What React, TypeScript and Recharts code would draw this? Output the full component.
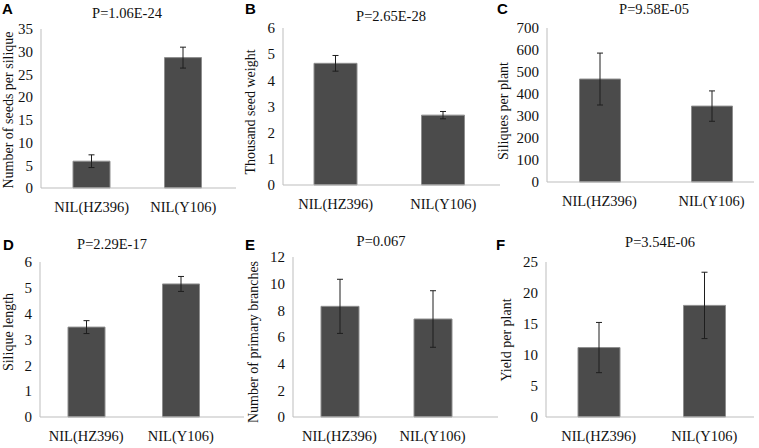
import React from "react";
import { BarChart, Bar, XAxis, YAxis, ErrorBar, Label } from "recharts";

const categories = ["NIL(HZ396)", "NIL(Y106)"];

const seedsPerSilique = [5.9, 28.7];
const seedsPerSiliqueErr = [1.4, 2.3];
const thousandSeedWeight = [4.65, 2.67];
const thousandSeedWeightErr = [0.3, 0.14];
const siliquesPerPlant = [468, 345];
const siliquesPerPlantErr = [118, 69];
const siliqueLength = [3.48, 5.15];
const siliqueLengthErr = [0.25, 0.29];
const primaryBranches = [8.3, 7.35];
const primaryBranchesErr = [2.03, 2.12];
const yieldPerPlant = [11.2, 18.0];
const yieldPerPlantErr = [4.05, 5.35];

const ticksA = [0, 5, 10, 15, 20, 25, 30, 35];
const ticksB = [0, 1, 2, 3, 4, 5, 6];
const ticksC = [0, 100, 200, 300, 400, 500, 600, 700];
const ticksD = [0, 1, 2, 3, 4, 5, 6];
const ticksE = [0, 2, 4, 6, 8, 10, 12];
const ticksF = [0, 5, 10, 15, 20, 25];

const SERIF = "'Liberation Serif', 'Times New Roman', serif";
const AXIS = "#bdbdbd";
const BAR = "#4b4b4b";

// left/top/width/height place each chart; yw = y axis width, mt = top margin, pl/pr = x padding
const panels = [
  { letter: "A", title: "P=1.06E-24", yLabel: "Number of seeds per silique", values: seedsPerSilique, errs: seedsPerSiliqueErr, ticks: ticksA,
    left: 0, top: 0, width: 236, height: 228, yw: 41, mt: 29, pl: 5, pr: 7, barSize: 37, lx: 8, ly: 110, tx: 127, ty: 17.5, kx: 2, ky: 14 },
  { letter: "B", title: "P=2.65E-28", yLabel: "Thousand seed weight", values: thousandSeedWeight, errs: thousandSeedWeightErr, ticks: ticksB,
    left: 238, top: 0, width: 262, height: 225, yw: 45, mt: 28, pl: -1, pr: 3, barSize: 43, lx: 12, ly: 112, tx: 391, ty: 21, kx: 245, ky: 14 },
  { letter: "C", title: "P=9.58E-05", yLabel: "Siliques per plant", values: siliquesPerPlant, errs: siliquesPerPlantErr, ticks: ticksC,
    left: 490, top: 0, width: 264, height: 222, yw: 57, mt: 28, pl: -3.5, pr: -13.5, barSize: 41, lx: 13, ly: 111, tx: 654, ty: 14, kx: 497, ky: 14 },
  { letter: "D", title: "P=2.29E-17", yLabel: "Silique length", values: siliqueLength, errs: siliqueLengthErr, ticks: ticksD,
    left: 0, top: 224, width: 244, height: 233, yw: 40, mt: 38, pl: -1, pr: 16, barSize: 37, lx: 8, ly: 108, tx: 112, ty: 248.5, kx: 3, ky: 250 },
  { letter: "E", title: "P=0.067", yLabel: "Number of primary branches", values: primaryBranches, errs: primaryBranchesErr, ticks: ticksE,
    left: 238, top: 224, width: 260, height: 233, yw: 55, mt: 33, pl: 0, pr: 19, barSize: 38, lx: 15, ly: 118, tx: 381, ty: 245.5, kx: 245, ky: 250 },
  { letter: "F", title: "P=3.54E-06", yLabel: "Yield per plant", values: yieldPerPlant, errs: yieldPerPlantErr, ticks: ticksF,
    left: 490, top: 224, width: 264, height: 233, yw: 56, mt: 38, pl: 0, pr: -3, barSize: 42, lx: 16, ly: 116, tx: 660, ty: 246.5, kx: 496, ky: 250 },
];

type PanelCfg = (typeof panels)[number];

const Panel = ({ p }: { p: PanelCfg }) => {
  const data = categories.map((name, i) => ({ name, value: p.values[i], err: p.errs[i] }));
  const max = p.ticks[p.ticks.length - 1];
  return (
    <div style={{ position: "absolute", left: p.left, top: p.top }}>
      <BarChart width={p.width} height={p.height} data={data} margin={{ top: p.mt, right: 0, bottom: 0, left: 0 }}>
        <XAxis
          dataKey="name"
          interval={0}
          height={40}
          tickLine={false}
          tickMargin={8}
          axisLine={{ stroke: AXIS }}
          padding={{ left: p.pl, right: p.pr }}
          tick={{ fontSize: 14.5, fontFamily: SERIF, fill: "#111" }}
        />
        <YAxis
          width={p.yw}
          domain={[0, max]}
          ticks={p.ticks}
          interval={0}
          tickLine={false}
          axisLine={{ stroke: AXIS }}
          tick={{ fontSize: 15, fontFamily: SERIF, fill: "#111" }}
        >
          <Label
            content={() => (
              <text
                x={p.lx}
                y={p.ly}
                transform={`rotate(-90 ${p.lx} ${p.ly})`}
                textAnchor="middle"
                dominantBaseline="central"
                fontSize={14}
                fontFamily={SERIF}
                fill="#111"
              >
                {p.yLabel}
              </text>
            )}
          />
        </YAxis>
        <Bar dataKey="value" fill={BAR} stroke="#8e8e8e" strokeWidth={1} barSize={p.barSize} isAnimationActive={false}>
          <ErrorBar dataKey="err" width={3} stroke="#1e1e1e" strokeWidth={1} direction="y" />
        </Bar>
      </BarChart>
    </div>
  );
};

export default function App() {
  return (
    <div style={{ position: "absolute", left: 0, top: 0, width: 759, height: 448, background: "#fff", overflow: "hidden" }}>
      {panels.map((p) => (
        <Panel key={p.letter} p={p} />
      ))}
      <svg width={759} height={448} style={{ position: "absolute", left: 0, top: 0, pointerEvents: "none" }}>
        {panels.map((p) => (
          <g key={p.letter}>
            <text x={p.kx} y={p.ky} fontSize={15} fontWeight="bold" fontFamily="'Liberation Sans', Arial, sans-serif" fill="#000">
              {p.letter}
            </text>
            <text x={p.tx} y={p.ty} textAnchor="middle" fontSize={14.5} fontFamily={SERIF} fill="#111">
              {p.title}
            </text>
          </g>
        ))}
      </svg>
    </div>
  );
}
